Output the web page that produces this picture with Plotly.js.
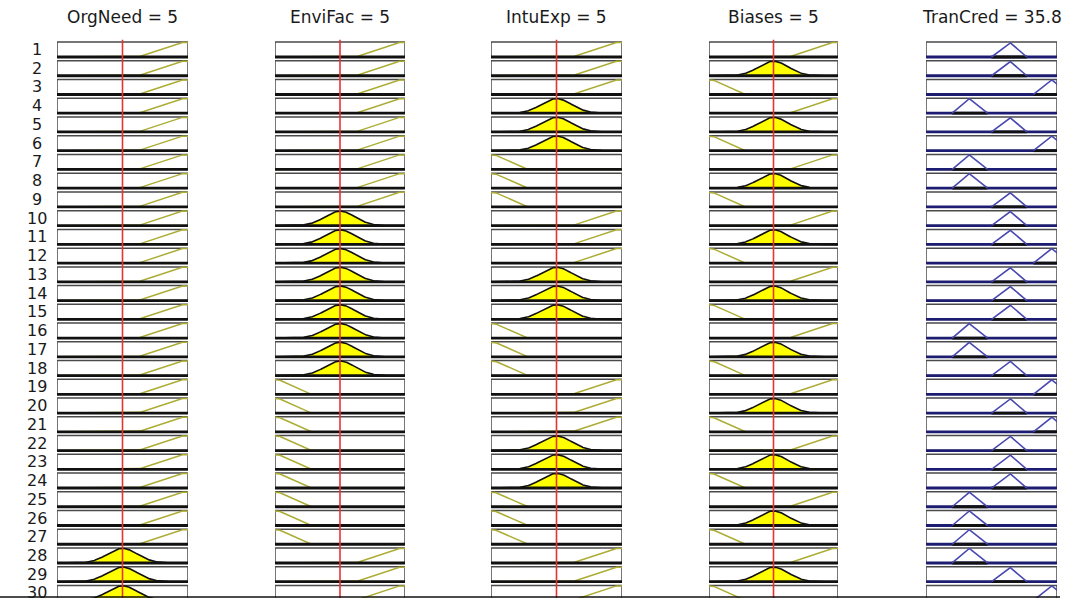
<!DOCTYPE html>
<html><head><meta charset="utf-8">
<script src="https://cdn.plot.ly/plotly-3.0.1.min.js"></script>
<style>html,body{margin:0;padding:0;background:#fff;overflow:hidden}</style>
</head><body><div id="chart" style="width:1076px;height:598px"></div>
<script>
// ---------------- data ----------------
const ruleLabels = ['1','2','3','4','5','6','7','8','9','10','11','12','13','14','15','16','17','18','19','20','21','22','23','24','25','26','27','28','29','30'];
const inputNames = ['OrgNeed','EnviFac','IntuExp','Biases'];
const inputValues = [5,5,5,5];
const outputName = 'TranCred';
const outputValue = 35.8;
// membership term used by each rule (L = low, M = medium, H = high)
const orgNeedTerms = ['H','H','H','H','H','H','H','H','H','H','H','H','H','H','H','H','H','H','H','H','H','H','H','H','H','H','H','M','M','M'];
const enviFacTerms = ['H','H','H','H','H','H','H','H','H','M','M','M','M','M','M','M','M','M','L','L','L','L','L','L','L','L','L','H','H','H'];
const intuExpTerms = ['H','H','H','M','M','M','L','L','L','H','H','H','M','M','M','L','L','L','H','H','H','M','M','M','L','L','L','H','H','H'];
const biasesTerms  = ['H','M','L','H','M','L','H','M','L','H','M','L','H','M','L','H','M','L','H','M','L','H','M','L','H','M','L','H','M','L'];
const tranCredTerms = ['M','M','H','L','M','H','L','L','M','M','M','H','M','M','M','L','L','M','H','M','H','M','M','M','L','L','L','L','M','H'];
const inputRange = [0,10];
const outputRange = [0,100];
// input MF parameters: L = falling ramp [a,b], M = gaussian [c,sigma], H = rising ramp [a,b]
const inputLowParams = [0.3, 2.7];
const inputMedParams = [5, 1.15];
const inputHighParams = [6.2, 9.4];
// output MF parameters (triangles a,b,c)
const outLowParams = [20, 33, 47];
const outMedParams = [50, 64, 77];
const outHighParams = [82, 96, 110];

// ---------------- geometry / style ----------------
const W = 1076, H = 598;
const colPx = [[57,188],[275,405],[491,622],[709,838],[926,1057]];
const rowTopPx = 49.5, rowStepPx = 18.74;
const halfBox = 0.4;
const yLo = 1 - rowTopPx/rowStepPx;
const yHi = yLo + H/rowStepPx;

function ramp(x,a,b){ if(x<=a) return 0; if(x>=b) return 1; return (x-a)/(b-a); }
function inMF(term,x){
  if(term==='L') return 1-ramp(x,inputLowParams[0],inputLowParams[1]);
  if(term==='M') return Math.exp(-Math.pow(x-inputMedParams[0],2)/(2*inputMedParams[1]*inputMedParams[1]));
  return ramp(x,inputHighParams[0],inputHighParams[1]);
}
function tri(x,p){ if(x<=p[0]||x>=p[2]) return 0; return x<=p[1] ? (x-p[0])/(p[1]-p[0]) : (p[2]-x)/(p[2]-p[1]); }
function outParams(t){ return t==='L'?outLowParams:(t==='M'?outMedParams:outHighParams); }

const termLists = [orgNeedTerms, enviFacTerms, intuExpTerms, biasesTerms];
const xs = []; for(let i=0;i<=400;i++) xs.push(inputRange[0]+(inputRange[1]-inputRange[0])*i/400);
const yOf = (r,m) => r + halfBox - 2*halfBox*m*0.97;

const traces = [];
const axNames = ['x','x2','x3','x4','x5'];

function boxTrace(ax, rng){
  const x=[], y=[];
  ruleLabels.forEach((lab,i)=>{ const r=i+1;
    x.push(rng[0],rng[1],rng[1],rng[0],rng[0],null);
    y.push(r-halfBox,r-halfBox,r+halfBox,r+halfBox,r-halfBox,null); });
  return {type:'scatter',mode:'lines',x,y,xaxis:ax,yaxis:'y',fill:'toself',fillcolor:'#ffffff',
    line:{color:'#4a4a4a',width:1.5},hoverinfo:'skip',showlegend:false};
}
function bottomTrace(ax, rng, color){
  const x=[], y=[];
  ruleLabels.forEach((lab,i)=>{ const r=i+1; x.push(rng[0],rng[1],null); y.push(r+halfBox,r+halfBox,null); });
  return {type:'scatter',mode:'lines',x,y,xaxis:ax,yaxis:'y',line:{color,width:2.8},hoverinfo:'skip',showlegend:false};
}

// input columns
termLists.forEach((terms,c)=>{
  const ax = axNames[c];
  traces.push(boxTrace(ax,inputRange));
  const fx=[],fy=[],ax1=[],ay1=[],ix=[],iy=[];
  terms.forEach((t,i)=>{
    const r=i+1;
    const mu = inMF(t,inputValues[c]);
    if(mu>0.01){
      fx.push(xs[0]); fy.push(yOf(r,0));
      xs.forEach(x=>{ fx.push(x); fy.push(yOf(r,Math.min(inMF(t,x),mu))); });
      fx.push(xs[xs.length-1],null); fy.push(yOf(r,0),null);
      xs.forEach(x=>{ ax1.push(x); ay1.push(yOf(r,inMF(t,x))); }); ax1.push(null); ay1.push(null);
    } else {
      xs.forEach(x=>{ ix.push(x); iy.push(yOf(r,inMF(t,x))); }); ix.push(null); iy.push(null);
    }
  });
  traces.push({type:'scatter',mode:'lines',x:fx,y:fy,xaxis:ax,yaxis:'y',fill:'toself',fillcolor:'#ffff00',
    line:{width:0,color:'rgba(0,0,0,0)'},hoverinfo:'skip',showlegend:false});
  traces.push({type:'scatter',mode:'lines',x:ix,y:iy,xaxis:ax,yaxis:'y',line:{color:'#acac34',width:1.5},hoverinfo:'skip',showlegend:false});
  traces.push({type:'scatter',mode:'lines',x:ax1,y:ay1,xaxis:ax,yaxis:'y',line:{color:'#111111',width:1.6},hoverinfo:'skip',showlegend:false});
  traces.push(bottomTrace(ax,inputRange,'#111111'));
  traces.push({type:'scatter',mode:'lines',x:[inputValues[c],inputValues[c]],y:[0.48,yHi+1],xaxis:ax,yaxis:'y',
    line:{color:'#e8322c',width:1.6},hoverinfo:'skip',showlegend:false});
});

// output column
(function(){
  const ax='x5';
  traces.push(boxTrace(ax,outputRange));
  traces.push(bottomTrace(ax,outputRange,'#1c1c70'));
  const ox=[],oy=[],bx=[],by=[];
  tranCredTerms.forEach((t,i)=>{
    const r=i+1, p=outParams(t);
    for(let k=0;k<=60;k++){ const x=p[0]+(p[2]-p[0])*k/60; ox.push(x); oy.push(yOf(r,tri(x,p))); }
    ox.push(null); oy.push(null);
    bx.push(p[0],Math.min(p[2],outputRange[1]),null); by.push(r+halfBox,r+halfBox,null);
  });
  traces.push({type:'scatter',mode:'lines',x:bx,y:by,xaxis:ax,yaxis:'y',line:{color:'#111111',width:2.8},hoverinfo:'skip',showlegend:false});
  traces.push({type:'scatter',mode:'lines',x:ox,y:oy,xaxis:ax,yaxis:'y',line:{color:'#4848b0',width:1.6},hoverinfo:'skip',showlegend:false});
})();

const layout = {
  width:W,height:H,margin:{l:0,r:0,t:0,b:0},paper_bgcolor:'#ffffff',plot_bgcolor:'rgba(0,0,0,0)',showlegend:false,
  yaxis:{range:[yHi,yLo],domain:[0,1],visible:false,fixedrange:true,anchor:'x'},
  annotations:[],
  shapes:[{type:'line',xref:'paper',yref:'paper',x0:0,x1:1060/W,y0:1/H,y1:1/H,line:{color:'#111111',width:1.5}}]
};
axNames.forEach((a,c)=>{
  const key = c===0?'xaxis':'xaxis'+(c+1);
  layout[key] = {domain:[colPx[c][0]/W,colPx[c][1]/W],range:c<4?inputRange:outputRange,visible:false,fixedrange:true,anchor:'y'};
});
const titleTexts = inputNames.map((n,c)=>n+' = '+inputValues[c]).concat([outputName+' = '+outputValue]);
titleTexts.forEach((t,c)=>{
  layout.annotations.push({text:t,xref:(c===0?'x':'x'+(c+1))+' domain',x:0.5,xanchor:'center',yref:'paper',y:1-17/H,yanchor:'middle',
    showarrow:false,font:{family:'DejaVu Sans, Liberation Sans, sans-serif',size:17,color:'#1a1a1a'}});
});
ruleLabels.forEach((lab,i)=>{
  layout.annotations.push({text:lab,xref:'paper',x:37/W,xanchor:'center',yref:'y',y:i+1,yanchor:'middle',
    showarrow:false,font:{family:'DejaVu Sans, Liberation Sans, sans-serif',size:16,color:'#1a1a1a'}});
});

Plotly.newPlot('chart',traces,layout,{staticPlot:true,displayModeBar:false});
</script></body></html>
